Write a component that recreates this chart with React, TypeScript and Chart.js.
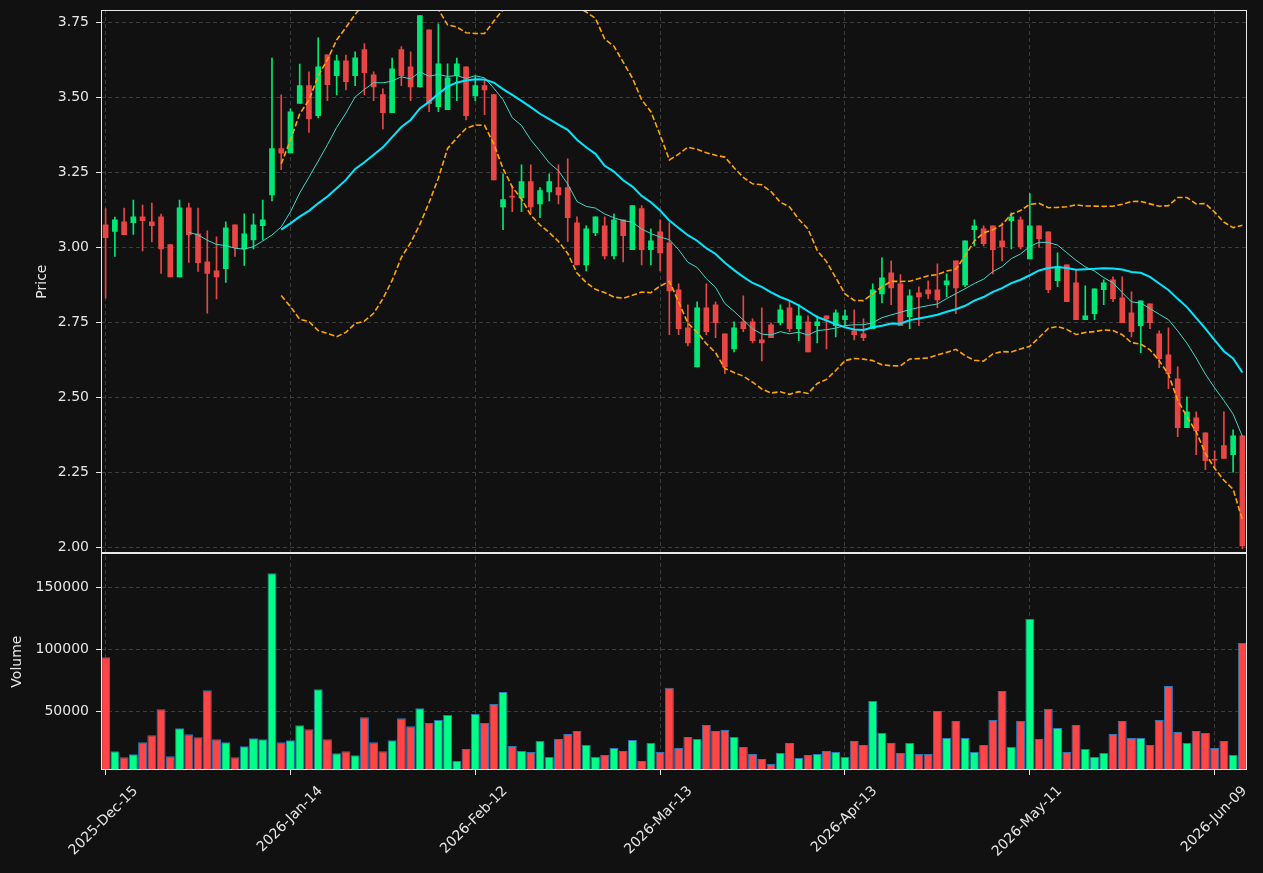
import React, { useEffect, useRef } from 'react';
import { Chart, registerables } from 'chart.js';

Chart.register(...registerables);

const tickIndex = [0, 20, 40, 60, 80, 100, 120];
const tickLabels = ['2025-Dec-15', '2026-Jan-14', '2026-Feb-12', '2026-Mar-13', '2026-Apr-13', '2026-May-11', '2026-Jun-09'];
const priceTicks = [2.0, 2.25, 2.5, 2.75, 3.0, 3.25, 3.5, 3.75];
const volumeTicks = [50000, 100000, 150000];

const openPrices = [
  3.074, 3.052, 3.084, 3.081, 3.101, 3.084, 3.101, 3.008, 2.901, 3.131,
  3.044, 2.951, 2.921, 2.928, 3.074, 2.994, 3.024, 3.071, 3.174, 3.328,
  3.314, 3.479, 3.538, 3.438, 3.641, 3.571, 3.621, 3.571, 3.658, 3.574,
  3.508, 3.448, 3.658, 3.601, 3.534, 3.724, 3.468, 3.458, 3.571, 3.601,
  3.504, 3.538, 3.508, 3.134, 3.170, 3.164, 3.218, 3.144, 3.184, 3.198,
  3.198, 3.081, 2.941, 3.048, 3.071, 2.971, 3.091, 2.991, 3.128, 2.991,
  3.051, 3.014, 2.858, 2.731, 2.601, 2.798, 2.808, 2.711, 2.661, 2.751,
  2.751, 2.691, 2.741, 2.748, 2.798, 2.728, 2.751, 2.738, 2.771, 2.738,
  2.758, 2.721, 2.711, 2.728, 2.844, 2.914, 2.878, 2.768, 2.848, 2.858,
  2.858, 2.874, 2.954, 2.874, 3.058, 3.061, 3.071, 3.021, 3.088, 3.091,
  2.961, 3.071, 3.051, 2.888, 2.941, 2.881, 2.758, 2.778, 2.858, 2.891,
  2.831, 2.781, 2.738, 2.811, 2.711, 2.641, 2.561, 2.398, 2.431, 2.381,
  2.293, 2.339, 2.308, 2.371,
];

const highPrices = [
  3.128, 3.100, 3.130, 3.157, 3.140, 3.147, 3.110, 3.008, 3.157, 3.147,
  3.130, 3.054, 3.034, 3.084, 3.074, 3.111, 3.111, 3.157, 3.630, 3.507,
  3.461, 3.610, 3.584, 3.697, 3.641, 3.640, 3.640, 3.651, 3.678, 3.584,
  3.527, 3.630, 3.668, 3.651, 3.771, 3.724, 3.744, 3.611, 3.630, 3.601,
  3.569, 3.558, 3.508, 3.244, 3.204, 3.274, 3.274, 3.198, 3.244, 3.274,
  3.294, 3.101, 3.071, 3.101, 3.101, 3.111, 3.091, 3.138, 3.138, 3.061,
  3.091, 3.081, 2.878, 2.808, 2.818, 2.878, 2.818, 2.711, 2.751, 2.838,
  2.761, 2.798, 2.748, 2.808, 2.821, 2.808, 2.771, 2.771, 2.771, 2.791,
  2.791, 2.791, 2.761, 2.878, 2.964, 2.954, 2.908, 2.858, 2.868, 2.888,
  2.944, 2.911, 2.954, 3.021, 3.091, 3.071, 3.071, 3.081, 3.114, 3.101,
  3.178, 3.071, 3.051, 2.981, 2.941, 2.924, 2.871, 2.861, 2.891, 2.901,
  2.901, 2.851, 2.821, 2.811, 2.721, 2.731, 2.601, 2.501, 2.451, 2.381,
  2.321, 2.451, 2.391, 2.371,
];

const lowPrices = [
  2.830, 2.969, 3.041, 3.042, 2.987, 3.017, 2.912, 2.901, 2.901, 2.949,
  2.919, 2.780, 2.827, 2.882, 2.969, 2.939, 2.994, 3.024, 3.154, 3.258,
  3.314, 3.479, 3.382, 3.430, 3.488, 3.507, 3.524, 3.538, 3.507, 3.488,
  3.394, 3.448, 3.538, 3.488, 3.534, 3.451, 3.451, 3.460, 3.488, 3.424,
  3.488, 3.441, 3.224, 3.058, 3.118, 3.118, 3.111, 3.098, 3.154, 3.144,
  3.019, 2.941, 2.921, 3.038, 2.961, 2.961, 2.951, 2.991, 2.941, 2.941,
  2.921, 2.708, 2.708, 2.671, 2.601, 2.708, 2.698, 2.578, 2.651, 2.718,
  2.681, 2.621, 2.698, 2.741, 2.718, 2.688, 2.651, 2.681, 2.661, 2.701,
  2.740, 2.691, 2.688, 2.728, 2.814, 2.808, 2.738, 2.728, 2.738, 2.828,
  2.798, 2.834, 2.778, 2.868, 3.004, 3.004, 2.911, 2.954, 2.994, 2.994,
  2.961, 3.000, 2.848, 2.868, 2.818, 2.758, 2.758, 2.758, 2.808, 2.818,
  2.748, 2.701, 2.648, 2.728, 2.598, 2.528, 2.368, 2.398, 2.308, 2.258,
  2.264, 2.296, 2.250, 1.994,
];

const closePrices = [
  3.031, 3.091, 3.041, 3.101, 3.088, 3.071, 2.994, 2.901, 3.131, 3.041,
  2.948, 2.912, 2.901, 3.064, 2.998, 3.044, 3.074, 3.091, 3.328, 3.313,
  3.451, 3.538, 3.428, 3.601, 3.541, 3.621, 3.551, 3.631, 3.581, 3.534,
  3.448, 3.594, 3.571, 3.534, 3.771, 3.478, 3.611, 3.564, 3.611, 3.438,
  3.538, 3.524, 3.224, 3.158, 3.166, 3.218, 3.134, 3.188, 3.218, 3.174,
  3.098, 2.941, 3.061, 3.101, 2.971, 3.091, 3.038, 3.138, 2.991, 3.021,
  2.981, 2.854, 2.728, 2.681, 2.798, 2.718, 2.748, 2.601, 2.731, 2.728,
  2.688, 2.681, 2.698, 2.791, 2.728, 2.771, 2.651, 2.751, 2.761, 2.781,
  2.771, 2.708, 2.698, 2.858, 2.898, 2.864, 2.738, 2.838, 2.834, 2.844,
  2.824, 2.888, 2.864, 3.021, 3.071, 3.011, 2.991, 3.001, 3.101, 3.001,
  3.071, 3.028, 2.858, 2.934, 2.818, 2.758, 2.771, 2.861, 2.881, 2.828,
  2.748, 2.718, 2.821, 2.748, 2.628, 2.578, 2.398, 2.451, 2.388, 2.288,
  2.290, 2.296, 2.371, 2.004,
];

const volumes = [
  93500, 17700, 12900, 15300, 25000, 30600, 51600, 13700, 36300, 31400,
  29000, 66900, 27400, 25000, 12900, 21800, 28200, 27400, 161300, 25000,
  26600, 38700, 35500, 67700, 27400, 16100, 17700, 14500, 45200, 25000,
  17700, 26600, 44400, 37900, 52400, 40600, 43000, 47000, 10000, 19600,
  47800, 40600, 55900, 65600, 22000, 18000, 17200, 26000, 13100, 27700,
  31700, 34100, 22800, 13100, 14800, 20400, 18000, 26900, 10000, 24400,
  17200, 68900, 20400, 29300, 27700, 39000, 34100, 34900, 29300, 21200,
  15600, 11500, 7500, 16400, 24400, 12300, 14800, 15600, 18000, 17200,
  13100, 26000, 22800, 58300, 32500, 24400, 16400, 24400, 15600, 15600,
  50200, 28500, 42200, 28500, 17200, 22800, 43000, 66400, 21200, 42200,
  124500, 27700, 51900, 36500, 17200, 39000, 19600, 13100, 16400, 31700,
  42200, 28500, 28500, 22800, 43000, 70400, 33300, 24400, 34100, 32500,
  20400, 26000, 14800, 105100,
];

const CANDLE_UP = '#00e676';
const CANDLE_DOWN = '#e84545';
const VOL_UP = '#00ff88';
const VOL_DOWN = '#ff4545';

function rollingMean(arr: number[], n: number): (number | null)[] {
  return arr.map((_, i) => {
    if (i < n - 1) return null;
    let s = 0;
    for (let k = i - n + 1; k <= i; k++) s += arr[k];
    return s / n;
  });
}

function rollingStd(arr: number[], n: number): (number | null)[] {
  return arr.map((_, i) => {
    if (i < n - 1) return null;
    let s = 0;
    for (let k = i - n + 1; k <= i; k++) s += arr[k];
    const m = s / n;
    let v = 0;
    for (let k = i - n + 1; k <= i; k++) v += (arr[k] - m) * (arr[k] - m);
    return Math.sqrt(v / n);
  });
}

export default function App() {
  const ref = useRef<HTMLCanvasElement>(null);

  useEffect(() => {
    const canvas = ref.current;
    if (!canvas) return;
    Chart.defaults.font.family = "'DejaVu Sans', sans-serif";
    Chart.defaults.font.size = 14;
    Chart.defaults.color = '#e6e6e6';

    const labels = closePrices.map((_, i) => String(i));
    const isUp = closePrices.map((c, i) => c >= openPrices[i]);
    const ma10 = rollingMean(closePrices, 10);
    const ma20 = rollingMean(closePrices, 20);
    const sd20 = rollingStd(closePrices, 20);
    const bbUpper = ma20.map((m, i) => (m === null ? null : m + 2 * (sd20[i] as number)));
    const bbLower = ma20.map((m, i) => (m === null ? null : m - 2 * (sd20[i] as number)));

    const framePlugin = {
      id: 'panelFrames',
      afterDatasetsDraw(chart: any) {
        const { ctx, chartArea } = chart;
        const ys = chart.scales.y;
        const yv = chart.scales.yv;
        ctx.save();
        ctx.strokeStyle = '#e8e8e8';
        ctx.lineWidth = 1;
        const l = Math.round(chartArea.left) + 0.5;
        const r = Math.round(chartArea.right) - 0.5;
        ctx.strokeRect(l, Math.round(ys.top) + 0.5, r - l, Math.round(ys.bottom) - Math.round(ys.top) - 1);
        ctx.strokeRect(l, Math.round(yv.top) + 0.5, r - l, Math.round(yv.bottom) - Math.round(yv.top) - 1);
        ctx.restore();
      },
    };

    const gridColor = '#3c3c3c';
    const dash = [4, 3];

    const chart = new Chart(canvas, {
      type: 'bar',
      data: {
        labels,
        datasets: [
          {
            type: 'line',
            label: 'BB Upper',
            data: bbUpper,
            yAxisID: 'y',
            borderColor: '#ffa500',
            borderWidth: 1.6,
            borderDash: [5.5, 2.5],
            pointRadius: 0,
            tension: 0,
            order: 0,
          },
          {
            type: 'line',
            label: 'BB Lower',
            data: bbLower,
            yAxisID: 'y',
            borderColor: '#ffa500',
            borderWidth: 1.6,
            borderDash: [5.5, 2.5],
            pointRadius: 0,
            tension: 0,
            order: 0,
          },
          {
            type: 'line',
            label: 'MA10',
            data: ma10,
            yAxisID: 'y',
            borderColor: '#40d8c8',
            borderWidth: 1,
            pointRadius: 0,
            tension: 0,
            order: 0,
          },
          {
            type: 'line',
            label: 'MA20',
            data: ma20,
            yAxisID: 'y',
            borderColor: '#00e8ff',
            borderWidth: 2,
            pointRadius: 0,
            tension: 0,
            order: 0,
          },
          {
            type: 'bar',
            label: 'Body',
            data: openPrices.map((o, i) => [o, closePrices[i]]) as any,
            yAxisID: 'y',
            backgroundColor: isUp.map((u) => (u ? CANDLE_UP : CANDLE_DOWN)),
            borderWidth: 0,
            barThickness: 5,
            grouped: false,
            order: 2,
          },
          {
            type: 'bar',
            label: 'Wick',
            data: lowPrices.map((lo, i) => [lo, highPrices[i]]) as any,
            yAxisID: 'y',
            backgroundColor: isUp.map((u) => (u ? CANDLE_UP : CANDLE_DOWN)),
            borderWidth: 0,
            barThickness: 1,
            grouped: false,
            order: 3,
          },
          {
            type: 'bar',
            label: 'Volume',
            data: volumes,
            yAxisID: 'yv',
            backgroundColor: isUp.map((u) => (u ? VOL_UP : VOL_DOWN)),
            borderColor: '#2f78b8',
            borderWidth: 1,
            barPercentage: 0.97,
            categoryPercentage: 1,
            grouped: false,
            order: 4,
          },
        ],
      },
      options: {
        responsive: false,
        animation: false,
        devicePixelRatio: 1,
        layout: { padding: { left: 0, right: 16, top: 10, bottom: 0 } },
        plugins: {
          legend: { display: false },
          tooltip: { enabled: false },
        },
        scales: {
          x: {
            type: 'category',
            offset: true,
            grid: {
              offset: false,
              color: gridColor,
              lineWidth: 1,
              drawTicks: true,
              tickLength: 5,
              tickColor: '#e8e8e8',
              tickBorderDash: [],
            },
            border: { display: false, dash },
            ticks: {
              autoSkip: false,
              maxRotation: 45,
              minRotation: 45,
              padding: 8,
              labelOffset: 30,
              color: '#e6e6e6',
              font: { size: 14 },
              callback: (value: any) => {
                const k = tickIndex.indexOf(Number(value));
                return k >= 0 ? tickLabels[k] : '';
              },
            },
            afterBuildTicks: (scale: any) => {
              scale.ticks = tickIndex.map((v) => ({ value: v }));
            },
            afterFit: (scale: any) => {
              scale.height = 103;
              scale.paddingLeft = 0;
              scale.paddingRight = 0;
            },
          },
          yv: {
            type: 'linear',
            position: 'left',
            stack: 'panels',
            stackWeight: 216.7,
            min: 2660,
            max: 177400,
            grid: {
              color: gridColor,
              drawTicks: true,
              tickLength: 5,
              tickColor: '#e8e8e8',
              tickBorderDash: [],
            },
            border: { display: false, dash },
            ticks: {
              padding: 7,
              color: '#e6e6e6',
              font: { size: 14 },
              callback: (v: any) => String(v),
            },
            afterBuildTicks: (scale: any) => {
              scale.ticks = volumeTicks.map((v) => ({ value: v }));
            },
            afterFit: (scale: any) => {
              scale.width = 101;
              scale.paddingTop = 0;
              scale.paddingBottom = 0;
            },
            title: {
              display: true,
              text: 'Volume',
              color: '#e6e6e6',
              font: { size: 14 },
              padding: { top: 8.6, bottom: 0 },
            },
          },
          y: {
            type: 'linear',
            position: 'left',
            stack: 'panels',
            stackWeight: 543,
            min: 1.98,
            max: 3.79,
            grid: {
              color: gridColor,
              drawTicks: true,
              tickLength: 5,
              tickColor: '#e8e8e8',
              tickBorderDash: [],
            },
            border: { display: false, dash },
            ticks: {
              padding: 7,
              color: '#e6e6e6',
              font: { size: 14 },
              callback: (v: any) => Number(v).toFixed(2),
            },
            afterBuildTicks: (scale: any) => {
              scale.ticks = priceTicks.map((v) => ({ value: v }));
            },
            afterFit: (scale: any) => {
              scale.width = 101;
              scale.paddingTop = 0;
              scale.paddingBottom = 0;
            },
            title: {
              display: true,
              text: 'Price',
              color: '#e6e6e6',
              font: { size: 14 },
              padding: { top: 33.6, bottom: 0 },
            },
          },
        },
      } as any,
      plugins: [framePlugin],
    });

    return () => chart.destroy();
  }, []);

  return (
    <div style={{ position: 'fixed', left: 0, top: 0, width: 1263, height: 873, background: '#111111' }}>
      <canvas ref={ref} width={1263} height={873} style={{ display: 'block', width: 1263, height: 873 }} />
    </div>
  );
}
